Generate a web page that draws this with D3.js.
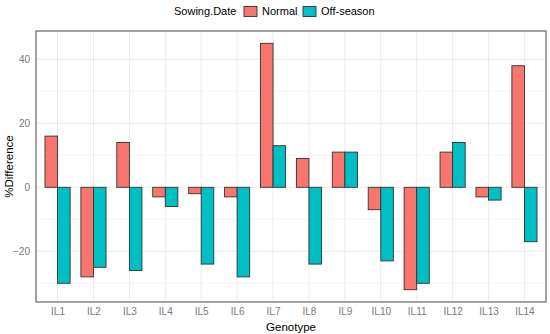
<!DOCTYPE html>
<html lang="en">
  <head>
    <meta charset="UTF-8" />
    <title>%Difference by Genotype</title>
    <script src="https://d3js.org/d3.v7.min.js"></script>
    <style>
      body { margin: 0; background: #fff; }
      text { font-family: "Liberation Sans", Arial, sans-serif; }
    </style>
  </head>
  <body>
    <div id="viz"></div>
    <script>
      // data
      const genotypes = ["IL1", "IL2", "IL3", "IL4", "IL5", "IL6", "IL7",
        "IL8", "IL9", "IL10", "IL11", "IL12", "IL13", "IL14"];
      const seasons = ["Normal", "Off-season"];
      const normal = [16, -28, 14, -3, -2, -3, 45, 9, 11, -7, -32, 11, -3, 38];
      const offSeason = [-30, -25, -26, -6, -24, -28, 13, -24, 11, -23, -30, 14, -4, -17];
      const yTicks = [-20, 0, 20, 40];
      const yMinor = [-30, -10, 10, 30];

      const colors = ["#F8766D", "#00BFC4"];

      const W = 550, H = 334;
      const margin = { top: 31, right: 4, bottom: 32, left: 36 };
      const width = W - margin.left - margin.right,
        height = H - margin.top - margin.bottom;

      const svg = d3.select("#viz").append("svg")
        .attr("width", W).attr("height", H);

      // ggplot style expansion: 0.6 on each side of a discrete axis
      const x = d3.scalePoint().domain(genotypes)
        .range([0, width]).padding(0.6);
      const step = x.step();
      const barW = step * 0.35;

      const lo = d3.min(normal.concat(offSeason)), hi = d3.max(normal.concat(offSeason));
      const pad = (hi - lo) * 0.05;
      const y = d3.scaleLinear().domain([lo - pad, hi + pad]).range([height, 0]);

      const g = svg.append("g")
        .attr("transform", "translate(" + margin.left + "," + margin.top + ")");

      // grid
      g.selectAll(".minor").data(yMinor).join("line")
        .attr("x1", 0).attr("x2", width)
        .attr("y1", d => y(d)).attr("y2", d => y(d))
        .attr("stroke", "#f2f2f2").attr("stroke-width", 0.8);
      g.selectAll(".major").data(yTicks).join("line")
        .attr("x1", 0).attr("x2", width)
        .attr("y1", d => y(d)).attr("y2", d => y(d))
        .attr("stroke", "#ebebeb").attr("stroke-width", 1);
      g.selectAll(".vgrid").data(genotypes).join("line")
        .attr("x1", d => x(d)).attr("x2", d => x(d))
        .attr("y1", 0).attr("y2", height)
        .attr("stroke", "#ebebeb").attr("stroke-width", 1);

      // bars
      const rows = [];
      genotypes.forEach((gt, i) => {
        rows.push({ g: gt, s: 0, v: normal[i] });
        rows.push({ g: gt, s: 1, v: offSeason[i] });
      });
      g.selectAll(".bar").data(rows).join("rect")
        .attr("x", d => x(d.g) + (d.s === 0 ? -barW : 0))
        .attr("width", barW)
        .attr("y", d => y(Math.max(0, d.v)))
        .attr("height", d => Math.abs(y(d.v) - y(0)))
        .attr("fill", d => colors[d.s])
        .attr("stroke", "#333")
        .attr("stroke-width", 0.9);

      // panel border
      g.append("rect").attr("width", width).attr("height", height)
        .attr("fill", "none").attr("stroke", "#666").attr("stroke-width", 1.2);

      // axes (no visible tick marks in the original)
      const xAxis = g.append("g").attr("transform", "translate(0," + height + ")")
        .call(d3.axisBottom(x).tickSize(0).tickPadding(6));
      const yAxis = g.append("g")
        .call(d3.axisLeft(y).tickValues(yTicks).tickSize(0).tickPadding(6)
          .tickFormat(d => d < 0 ? "\u2212" + Math.abs(d) : d));
      [xAxis, yAxis].forEach(a => {
        a.select(".domain").remove();
        a.selectAll(".tick text").attr("fill", "#7a7a7a")
          .style("font-size", "10px").style("font-family", "Liberation Sans, Arial, sans-serif");
      });

      // axis titles
      svg.append("text")
        .attr("x", margin.left + width / 2).attr("y", 331)
        .attr("text-anchor", "middle").style("font-size", "11.5px")
        .text("Genotype");
      svg.append("text")
        .attr("transform", "translate(13," + (margin.top + height / 2) + ") rotate(-90)")
        .attr("text-anchor", "middle").style("font-size", "11.5px")
        .text("%Difference");

      // legend
      const leg = svg.append("g").attr("transform", "translate(0,11)");
      leg.append("text").attr("x", 174).attr("y", 4).style("font-size", "11px")
        .text("Sowing.Date");
      const keyX = [244, 303], labX = [262, 321];
      seasons.forEach((s, i) => {
        leg.append("rect").attr("x", keyX[i]).attr("y", -4.5)
          .attr("width", 13).attr("height", 10)
          .attr("fill", colors[i]).attr("stroke", "#333").attr("stroke-width", 0.9);
        leg.append("text").attr("x", labX[i]).attr("y", 4).style("font-size", "11px")
          .text(s);
      });
    </script>
  </body>
</html>
